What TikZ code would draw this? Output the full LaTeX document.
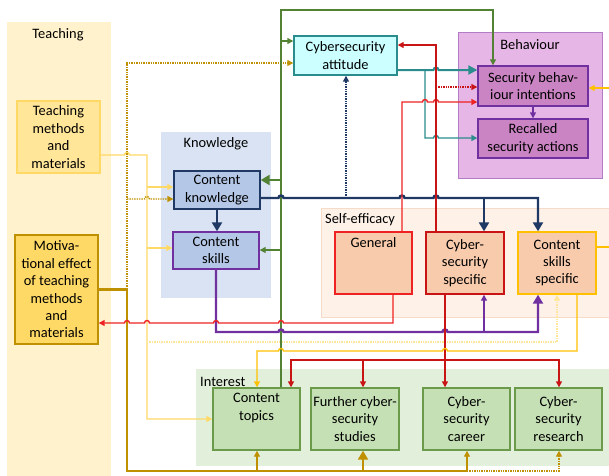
\documentclass[tikz,border=0pt]{standalone}
\usepackage{fontspec}
\setmainfont{Carlito}
\usetikzlibrary{arrows.meta,calc}
\definecolor{teachbg}{HTML}{FFF2CC}
\definecolor{knowbg}{HTML}{DAE3F3}
\definecolor{behbg}{HTML}{E6B6E6}
\definecolor{behline}{HTML}{B27CC6}
\definecolor{selfbg}{HTML}{FDF1E8}
\definecolor{selfline}{HTML}{F6DCC8}
\definecolor{intbg}{HTML}{E2EFDA}
\definecolor{tmfill}{HTML}{FFE699}
\definecolor{tmline}{HTML}{FFD966}
\definecolor{mefill}{HTML}{FFD966}
\definecolor{dgold}{HTML}{BF9000}
\definecolor{cafill}{HTML}{CCFFFF}
\definecolor{tealc}{HTML}{2A8C8C}
\definecolor{bhfill}{HTML}{CA84C4}
\definecolor{knfill}{HTML}{B4C7E7}
\definecolor{sefill}{HTML}{F8CBAD}
\definecolor{infill}{HTML}{C5E0B4}
\definecolor{inline}{HTML}{6A9A4A}
\definecolor{grn}{HTML}{548235}
\definecolor{navy}{HTML}{1F3864}
\definecolor{purp}{HTML}{7030A0}
\definecolor{redA}{HTML}{EE2222}
\definecolor{redB}{HTML}{C81414}
\definecolor{goldA}{HTML}{FFC000}
\definecolor{ylw}{HTML}{FFD966}
\tikzset{
  blk/.style    ={draw, line width=1.4pt, align=center, inner sep=1pt},
  sz/.style 2 args={minimum width=#1pt, minimum height=#2pt},
  tmbox/.style  ={blk, fill=tmfill, draw=tmline},
  mebox/.style  ={blk, fill=mefill, draw=dgold},
  cabox/.style  ={blk, fill=cafill, draw=tealc},
  bhbox/.style  ={blk, fill=bhfill, draw=purp},
  knbox/.style  ={blk, fill=knfill},
  sebox/.style  ={blk, fill=sefill},
  inbox/.style  ={blk, fill=infill, draw=inline},
  toptext/.style={label={[anchor=north, align=center, inner sep=6pt]north:#1}},
  tip/.style    ={line width=1.4pt, -{Triangle[length=6pt,width=6pt]}},
  bigtip/.style ={line width=2.4pt, -{Triangle[length=9pt,width=10pt]}},
}
% little bumps where a horizontal line jumps over a vertical one
\newcommand{\hopr}[2]{-- (#1-2.5,#2) arc[start angle=180,end angle=0,radius=2.5pt]}
\newcommand{\hopl}[2]{-- (#1+2.5,#2) arc[start angle=0,end angle=180,radius=2.5pt]}

\begin{document}
\begin{tikzpicture}[x=1pt,y=-1pt,font=\fontsize{14.4}{17.4}\selectfont]
    \useasboundingbox (0,0) rectangle (609,475);
    % group panels
    \fill[teachbg] (7,22) rectangle (111,480);
    \fill[knowbg] (161,132) rectangle (271,298);
    \filldraw[fill=behbg, draw=behline, line width=1pt] (458,32) rectangle (602,178);
    \filldraw[fill=selfbg, draw=selfline, line width=1pt] (321,208) rectangle (615,317);
    \fill[intbg] (196,369) rectangle (615,466);
    \node (lteach) at (58,35) {Teaching};
    \node (lknow) at (216,144) {Knowledge};
    \node (lbeh) at (530,45) {Behaviour};
    \node[anchor=west, inner sep=0pt] (lself) at (325,220) {Self-efficacy};
    \node[anchor=west, inner sep=0pt] (lint) at (200,382) {Interest};
    % boxes
    \node[tmbox, sz={83}{72}] (tm) at (58.5,137) {Teaching\\methods\\and\\materials};
    \node[mebox, sz={83}{109}] (me) at (56.5,289.5) {Motiva-\\tional effect\\of teaching\\methods\\and\\materials};
    \node[cabox, sz={103}{39}] (ca) at (345.5,55.5) {Cybersecurity\\attitude};
    \node[bhbox, sz={110}{40}] (sbi) at (533,86) {Security behav-\\iour intentions};
    \node[bhbox, sz={110}{39}] (rsa) at (533,138.5) {Recalled\\security actions};
    \node[knbox, draw=navy, sz={86}{38}] (ck) at (217,190) {Content\\knowledge};
    \node[knbox, draw=purp, sz={86}{37}] (cs) at (216,250.5) {Content\\skills};
    \node[sebox, draw=redA, sz={77}{62}, toptext=General] (gen) at (373.5,263) {};
    \node[sebox, draw=redB, sz={78}{62}] (css) at (465,263) {Cyber-\\security\\specific};
    \node[sebox, draw=goldA, sz={78}{62}] (csk) at (557,263) {Content\\skills\\specific};
    \node[inbox, sz={87}{62}, toptext={Content\\topics}] (ct) at (256.5,419) {};
    \node[inbox, sz={88}{62}] (fcs) at (355,419) {Further cyber-\\security\\studies};
    \node[inbox, sz={87}{62}] (cc) at (466.5,419) {Cyber-\\security\\career};
    \node[inbox, sz={87}{62}] (cr) at (558.5,419) {Cyber-\\security\\research};
    % teaching methods and materials
    \draw[ylw, tip] (tm.east |- 0,155) \hopr{127}{155} -- (147,155) -- (147,419) -- (ct.west |- 0,419);
    \draw[ylw, tip] (147,187) -- (ck.west |- 0,187);
    \draw[ylw, tip] (147,248) -- (cs.west |- 0,248);
    \draw[tmfill, densely dotted, tip] (147,342) -- (557,342) -- (557,0 |- csk.south);
    % motivational effect
    \draw[dgold, bigtip] (me.east) -- (127,0 |- me.east) -- (127,471) -- (363,471) -- (363,0 |- fcs.south);
    \draw[dgold, tip] (257,471) -- (257,0 |- ct.south);
    \draw[dgold, tip] (363,471) -- (467,471) -- (467,0 |- cc.south);
    \draw[dgold, densely dotted, tip] (467,471) -- (559,471) -- (559,0 |- cr.south);
    \draw[dgold, densely dotted, tip] (127,289) -- (127,63) -- (ca.west |- 0,63);
    \draw[dgold, densely dotted, tip] (127,199) \hopr{147}{199} -- (ck.west |- 0,199);
    % content topics
    \draw[grn, bigtip] (281,0 |- ct.north) -- (281,180) -- (ck.east |- 0,180);
    \draw[grn, tip] (281,180) -- (281,10) -- (493,10) -- (493,0 |- sbi.north);
    \draw[grn, tip] (281,41) -- (ca.west |- 0,41);
    \draw[grn, tip] (281,250) -- (cs.east |- 0,250);
    % attitude
    \draw[tealc, line width=2pt, -{Triangle[length=9pt,width=9pt]}] (ca.east |- 0,70) \hopr{436}{70} -- (sbi.west |- 0,70);
    \draw[tealc, tip] (425,70) -- (425,138) \hopr{436}{138} -- (rsa.west |- 0,138);
    % knowledge
    \draw[navy, bigtip] (ck.south) -- (ck.south |- cs.north);
    \draw[navy, bigtip] (ck.east |- 0,198) \hopr{281}{198} \hopr{402}{198} \hopr{436}{198} -- (538,198) -- (538,0 |- csk.north);
    \draw[navy, bigtip] (484,198) -- (484,0 |- css.north);
    \draw[navy, densely dotted, tip] (346,198) -- (346,0 |- ca.south);
    \draw[purp, bigtip] (cs.south) -- (216,332) \hopr{281}{332} \hopr{445}{332} -- (538,332) -- (538,0 |- csk.south);
    \draw[purp, tip] (484,332) -- (484,0 |- css.south);
    % self-efficacy
    \draw[redA, tip] (393,0 |- gen.south) -- (393,323) \hopl{281}{323} \hopl{216}{323} \hopl{147}{323} \hopl{127}{323} -- (me.east |- 0,323);
    \draw[redA, tip] (402,0 |- gen.north) -- (402,102) \hopr{425}{102} \hopr{436}{102} -- (sbi.west |- 0,102);
    \draw[redB, tip] (436,0 |- css.north) -- (436,45) -- (ca.east |- 0,45);
    \draw[redB, densely dotted, tip] (436,87) -- (sbi.west |- 0,87);
    \draw[redB, tip] (445,0 |- css.south) -- (445,0 |- cc.north);
    \draw[redB, tip] (445,360) -- (291,360) -- (291,0 |- ct.north);
    \draw[redB, tip] (445,360) -- (559,360) -- (559,0 |- cr.north);
    \draw[redB, tip] (363,360) -- (363,0 |- fcs.north);
    \draw[goldA, tip] (csk.east |- 0,247) -- (614,247) -- (614,88) -- (sbi.east |- 0,88);
    \draw[goldA, tip] (577,0 |- csk.south) -- (577,351) \hopl{445}{351} \hopl{281}{351} -- (257,351) -- (257,0 |- ct.north);
    % behaviour
    \draw[purp, tip] (sbi.south) -- (rsa.north);
\end{tikzpicture}
\end{document}
